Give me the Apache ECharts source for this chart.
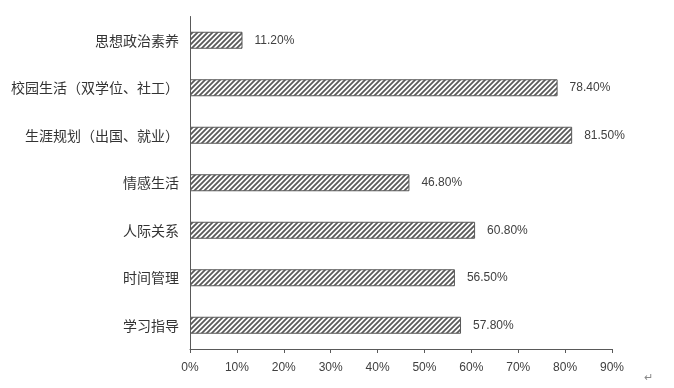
<!DOCTYPE html>
<html>
<head>
<meta charset="utf-8">
<script src="https://cdn.jsdelivr.net/npm/echarts@6/dist/echarts.min.js"></script>
<style>html,body{margin:0;padding:0;background:#fff;}#c{width:674px;height:388px;}</style>
</head>
<body>
<div id="c"></div>
<script>
const categories = ['思想政治素养','校园生活（双学位、社工）','生涯规划（出国、就业）','情感生活','人际关系','时间管理','学习指导'];
const values = [11.2, 78.4, 81.5, 46.8, 60.8, 56.5, 57.8];
const tickLabels = ['0%','10%','20%','30%','40%','50%','60%','70%','80%','90%'];

function hatch() {
  const s = 5;
  const c = document.createElement('canvas');
  c.width = s; c.height = s;
  const g = c.getContext('2d');
  g.fillStyle = '#ffffff';
  g.fillRect(0,0,s,s);
  g.strokeStyle = '#595959';
  g.lineWidth = 1.8;
  g.beginPath();
  g.moveTo(-1,s+1); g.lineTo(s+1,-1);
  g.moveTo(-2,2); g.lineTo(2,-2);
  g.moveTo(s-2,s+2); g.lineTo(s+2,s-2);
  g.stroke();
  return c;
}

const chart = echarts.init(document.getElementById('c'));
chart.setOption({
  animation: false,
  grid: {left: 190, right: 62, top: 16.5, bottom: 39, containLabel: false},
  xAxis: {
    type: 'value', min: 0, max: 90, interval: 10,
    axisLine: {show: true, lineStyle: {color: '#595959'}},
    axisTick: {show: true, length: 4, lineStyle: {color: '#595959'}},
    splitLine: {show: false},
    axisLabel: {
      color: '#404040', fontSize: 12, fontFamily: 'Liberation Sans', margin: 13,
      formatter: function (v) { return tickLabels[Math.round(v / 10)]; }
    }
  },
  yAxis: {
    type: 'category', data: categories, inverse: true,
    axisLine: {show: true, lineStyle: {color: '#595959'}},
    axisTick: {show: false},
    axisLabel: {color: '#333', fontSize: 14, fontFamily: 'Noto Sans CJK SC', margin: 11}
  },
  series: [{
    type: 'bar', data: values, barWidth: 17,
    itemStyle: {color: {image: hatch(), repeat: 'repeat'}, borderColor: '#595959', borderWidth: 1},
    label: {
      show: true, position: 'right', distance: 12, color: '#404040', fontSize: 12,
      fontFamily: 'Liberation Sans',
      formatter: function (p) { return p.value.toFixed(2) + '%'; }
    }
  }],
  graphic: [{type: 'text', left: 644, top: 372, style: {text: '↵', fill: '#888', fontSize: 11}}]
});
</script>
</body>
</html>
